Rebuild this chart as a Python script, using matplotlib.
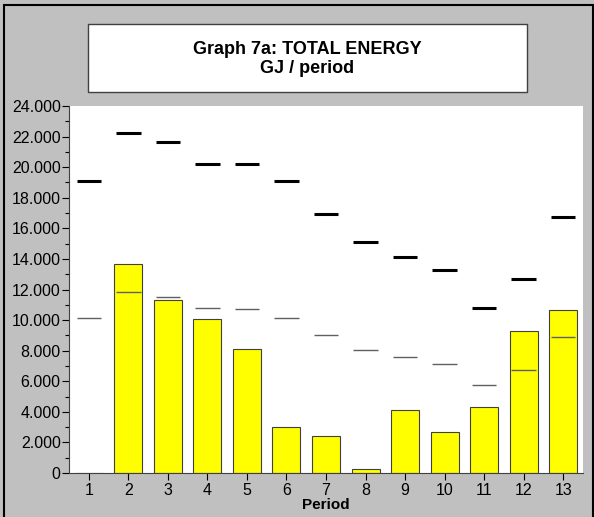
import numpy as np
import matplotlib.pyplot as plt
from matplotlib.patches import Rectangle
from matplotlib.ticker import FuncFormatter, MultipleLocator

plt.rcParams['font.family'] = ['Liberation Sans', 'DejaVu Sans']

periods = np.arange(1, 14)
actual = [0, 13700, 11300, 10100, 8100, 3030, 2450, 290, 4100, 2660, 4320, 9270, 10680]
upper = [19120, 22210, 21630, 20210, 20230, 19100, 16920, 15090, 14100, 13280, 10770, 12670, 16740]
target = [10160, 11820, 11530, 10770, 10750, 10160, 9000, 8070, 7590, 7110, 5730, 6760, 8910]


def fmt(v, pos):
    if v == 0:
        return '0'
    return '{:,.0f}'.format(v).replace(',', '.')


def main():
    fig = plt.figure(figsize=(5.94, 5.17), dpi=100)
    fig.patch.set_facecolor('#c0c0c0')

    # outer frame
    fig.patches.append(Rectangle((4 / 594, -0.01), 589 / 594, 1 - 5 / 517 + 0.01,
                                 transform=fig.transFigure, fill=False,
                                 edgecolor='black', lw=1.5))
    # title box
    fig.patches.append(Rectangle((88 / 594, 1 - 92 / 517), 439 / 594, 68 / 517,
                                 transform=fig.transFigure, facecolor='white',
                                 edgecolor='#404040', lw=1))
    fig.text(307 / 594, 1 - 59 / 517, 'Graph 7a: TOTAL ENERGY\nGJ / period',
             ha='center', va='center', fontsize=13, fontweight='bold',
             linespacing=1.1)

    ax = fig.add_axes([69 / 594, 44 / 517, 514 / 594, 367 / 517])
    ax.set_facecolor('white')

    ax.bar(periods, actual, width=0.71, color='#ffff00', edgecolor='#404040',
           linewidth=0.8, zorder=2)
    w = 0.62
    ax.hlines(upper, periods - w / 2, periods + w / 2, colors='black', lw=2.2, zorder=3)
    ax.hlines(target, periods - w / 2, periods + w / 2, colors='#606060', lw=1.0, zorder=3)

    ax.set_xlim(0.5, 13.5)
    ax.set_ylim(0, 24000)
    ax.set_xticks(periods)
    ax.yaxis.set_major_locator(MultipleLocator(2000))
    ax.yaxis.set_minor_locator(MultipleLocator(1000))
    ax.yaxis.set_major_formatter(FuncFormatter(fmt))
    ax.tick_params(axis='both', labelsize=11.5, colors='black', length=5, width=0.8, pad=1)
    ax.tick_params(axis='x', pad=2)
    ax.tick_params(axis='y', which='minor', length=3, width=0.8)

    for s in ['top', 'right']:
        ax.spines[s].set_visible(False)
    for s in ['left', 'bottom']:
        ax.spines[s].set_color('#404040')
        ax.spines[s].set_linewidth(0.8)

    ax.set_xlabel('Period', fontsize=11, fontweight='bold', labelpad=0)

    fig.savefig('out.png', dpi=100, facecolor=fig.get_facecolor())


if __name__ == '__main__':
    main()
